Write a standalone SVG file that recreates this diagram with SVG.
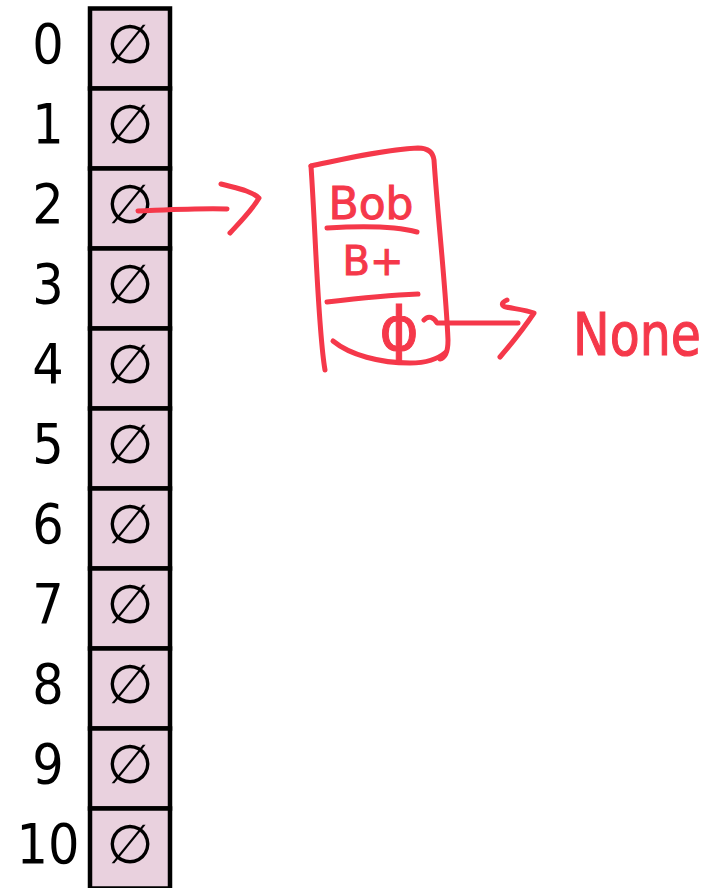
<svg xmlns="http://www.w3.org/2000/svg" width="711" height="888" viewBox="0 0 711 888">
  <style>
    .cell rect { fill: #E9D1DE; stroke: #000; stroke-width: 4.5; }
    .idx { font-family: "DejaVu Sans Condensed", "DejaVu Sans", sans-serif; font-size: 55px; fill: #000; text-anchor: middle; }
    .nil { font-family: "DejaVu Sans", sans-serif; font-size: 54px; fill: #000; text-anchor: middle; }
    .ink { fill: none; stroke: #F5384A; stroke-width: 5; stroke-linecap: round; stroke-linejoin: round; }
    .hand { font-family: "DejaVu Sans", sans-serif; fill: #F5384A; stroke: #F5384A; stroke-width: 1; text-anchor: middle; }
  </style>
  <rect width="711" height="888" fill="#fff"/>

  <!-- hash table slots -->
  <g id="slot-0" class="cell"><rect x="90" y="8.5" width="80" height="80"/><text class="idx" x="48" y="63">0</text><text class="nil" x="130" y="63">∅</text></g>
  <g id="slot-1" class="cell"><rect x="90" y="88.5" width="80" height="80"/><text class="idx" x="48" y="143">1</text><text class="nil" x="130" y="143">∅</text></g>
  <g id="slot-2" class="cell"><rect x="90" y="168.5" width="80" height="80"/><text class="idx" x="48" y="223">2</text><text class="nil" x="130" y="223">∅</text></g>
  <g id="slot-3" class="cell"><rect x="90" y="248.5" width="80" height="80"/><text class="idx" x="48" y="303">3</text><text class="nil" x="130" y="303">∅</text></g>
  <g id="slot-4" class="cell"><rect x="90" y="328.5" width="80" height="80"/><text class="idx" x="48" y="383">4</text><text class="nil" x="130" y="383">∅</text></g>
  <g id="slot-5" class="cell"><rect x="90" y="408.5" width="80" height="80"/><text class="idx" x="48" y="463">5</text><text class="nil" x="130" y="463">∅</text></g>
  <g id="slot-6" class="cell"><rect x="90" y="488.5" width="80" height="80"/><text class="idx" x="48" y="543">6</text><text class="nil" x="130" y="543">∅</text></g>
  <g id="slot-7" class="cell"><rect x="90" y="568.5" width="80" height="80"/><text class="idx" x="48" y="623">7</text><text class="nil" x="130" y="623">∅</text></g>
  <g id="slot-8" class="cell"><rect x="90" y="648.5" width="80" height="80"/><text class="idx" x="48" y="703">8</text><text class="nil" x="130" y="703">∅</text></g>
  <g id="slot-9" class="cell"><rect x="90" y="728.5" width="80" height="80"/><text class="idx" x="48" y="783">9</text><text class="nil" x="130" y="783">∅</text></g>
  <g id="slot-10" class="cell"><rect x="90" y="808.5" width="80" height="80"/><text class="idx" x="48" y="863">10</text><text class="nil" x="130" y="863">∅</text></g>

  <!-- linked-list node: name / grade / next -->
  <g id="node-bob">
    <path class="ink" d="M325 370 C318 330 316 240 311 166"/>
    <path class="ink" d="M311 166 C340 160 380 150 418 148 C428 148 433 152 434 160 C438 220 446 290 448 340 C448 352 445 358 440 359"/>
    <path class="ink" d="M333 341 C350 355 380 363 410 363 C425 363 437 360 446 352"/>
    <path class="ink" d="M327 228 C360 226 395 226 417 232"/>
    <path class="ink" d="M327 302 C360 298 390 295 418 294"/>
    <text class="hand" x="371" y="219" font-size="44">Bob</text>
    <text class="hand" x="373" y="275" font-size="40">B+</text>
    <text class="hand" x="399" y="350" font-size="60">ϕ</text>
  </g>

  <g id="none-label">
    <text class="hand" transform="translate(637 355) scale(1 1.2)" font-size="49">None</text>
  </g>

  <!-- pointers -->
  <g id="connectors">
    <path class="ink" d="M138 211 C165 210 200 208 227 209"/>
    <path class="ink" d="M221 184 C235 188 250 190 259 198 C252 210 240 222 230 233"/>
    <path class="ink" d="M424 320 C428 315 434 317 437 323 C465 323 495 323 518 323"/>
    <path class="ink" d="M507 300 C500 303 502 306 506 307 C516 309 526 310 534 313 C524 328 512 343 500 357"/>
  </g>
</svg>
